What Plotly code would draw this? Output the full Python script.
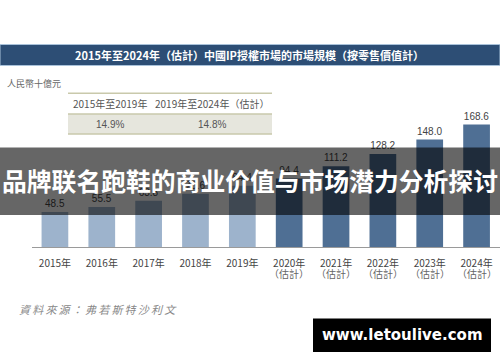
import plotly.graph_objects as go

W, H = 500, 362
years = ["2015年", "2016年", "2017年", "2018年", "2019年",
         "2020年", "2021年", "2022年", "2023年", "2024年"]
values = [48.5, 55.5, 63.8, 73.6, 84.4, 94.4, 111.2, 128.2, 148.0, 168.6]
estimated = [False] * 5 + [True] * 5
est_label = "（估計）"
table_header = ["2015年至2019年", "2019年至2024年（估計）"]
table_cagr = ["14.9%", "14.8%"]

title = "2015年至2024年（估計）中國IP授權市場的市場規模（按零售價值計）"
unit = "人民幣十億元"
source = "資料來源：弗若斯特沙利文"
banner = "品牌联名跑鞋的商业价值与市场潜力分析探讨"
watermark = "www.letoulive.com"

LIGHT = "#9db3cc"
DARK = "#4f6f94"
FONT = "Noto Sans CJK TC, Noto Sans CJK SC, sans-serif"

def py(y):
    return 1 - y / H

def px(x):
    return x / W

x_idx = list(range(len(years)))
fig = go.Figure(go.Bar(
    x=x_idx, y=values,
    marker=dict(color=[DARK if e else LIGHT for e in estimated], line=dict(width=0)),
    text=[f"{v:.1f}" for v in values], textposition="outside",
    textfont=dict(size=10, color="#444", family="Liberation Sans, Arial, sans-serif"),
    cliponaxis=False, width=0.57,
))

base_y = 247.3
scale = 0.728
fig.update_layout(
    width=W, height=H, margin=dict(l=0, r=0, t=0, b=0),
    paper_bgcolor="white", plot_bgcolor="white", showlegend=False,
    font=dict(family=FONT),
    xaxis=dict(domain=[px(31.5), 1.0], range=[-0.5, 9.5],
               tickmode="array", tickvals=x_idx, ticktext=years,
               tickfont=dict(size=10, color="#444", family=FONT),
               showline=True, linecolor="#9a9a9a", linewidth=1,
               ticks="", showgrid=False, zeroline=False, ticklabelstandoff=7),
    yaxis=dict(domain=[py(base_y), 1.0], range=[0, base_y / scale],
               visible=False, showgrid=False, zeroline=False),
)

shapes = []
# Title bar
shapes.append(dict(type="rect", xref="paper", yref="paper", x0=0, x1=1,
                   y0=py(65.5), y1=py(44.5), fillcolor="#2d4e75",
                   line=dict(color="#a9c2da", width=1), layer="below"))
# Table
shapes.append(dict(type="rect", xref="paper", yref="paper", x0=px(68), x1=px(272),
                   y0=py(134), y1=py(114), fillcolor="#e6e6dd", line=dict(width=0), layer="below"))
for yy in (93.3, 114, 134):
    shapes.append(dict(type="line", xref="paper", yref="paper", x0=px(68), x1=px(272),
                       y0=py(yy), y1=py(yy), line=dict(color="#c9c9ab", width=1.5), layer="below"))
# Banner overlay
shapes.append(dict(type="rect", xref="paper", yref="paper", x0=0, x1=1,
                   y0=py(215), y1=py(147.5), fillcolor="rgba(0,0,0,0.6)",
                   line=dict(width=0), layer="above"))
# Watermark box
shapes.append(dict(type="rect", xref="paper", yref="paper", x0=px(313), x1=px(491),
                   y0=py(352), y1=py(318.5), fillcolor="black",
                   line=dict(width=0), layer="above"))
fig.update_layout(shapes=shapes)

ann = []
for i, e in zip(x_idx, estimated):
    if e:
        ann.append(dict(text=est_label, x=i, y=py(273.5), xref="x", yref="paper",
                        showarrow=False, font=dict(size=10, color="#666", family=FONT),
                        xanchor="center", yanchor="middle"))
ann.append(dict(text=f"<b>{title}</b>", x=px(249), y=py(55), xref="paper", yref="paper",
                showarrow=False, font=dict(size=11, color="white", family=FONT),
                xanchor="center", yanchor="middle"))
ann.append(dict(text=unit, x=px(5), y=py(83), xref="paper", yref="paper",
                showarrow=False, font=dict(size=9, color="#666", family=FONT),
                xanchor="left", yanchor="middle"))
for cx, h, c in zip((110, 212), table_header, table_cagr):
    ann.append(dict(text=h, x=px(cx), y=py(103.5), xref="paper", yref="paper",
                    showarrow=False, font=dict(size=10, color="#555", family=FONT),
                    xanchor="center", yanchor="middle"))
    ann.append(dict(text=c, x=px(cx), y=py(124), xref="paper", yref="paper",
                    showarrow=False, font=dict(size=10, color="#555", family="Liberation Sans, Arial, sans-serif"),
                    xanchor="center", yanchor="middle"))
ann.append(dict(text="<i>" + "\u2009".join(source) + "</i>", x=px(17), y=py(309), xref="paper", yref="paper",
                showarrow=False, font=dict(size=11, color="#888", family=FONT),
                xanchor="left", yanchor="middle"))
ann.append(dict(text=f"<b>{banner}</b>", x=0.5, y=py(179.5), xref="paper", yref="paper",
                showarrow=False, font=dict(size=24.8, color="white", family="Noto Sans CJK SC, sans-serif"),
                xanchor="center", yanchor="middle"))
ann.append(dict(text=f"<b>{watermark}</b>", x=px(402), y=py(335), xref="paper", yref="paper",
                showarrow=False, font=dict(size=15, color="white", family="DejaVu Sans, sans-serif"),
                xanchor="center", yanchor="middle"))
fig.update_layout(annotations=ann)

fig.write_html("out.html", config={"displayModeBar": False},
               post_script="document.body.style.margin='0';document.body.style.overflow='hidden';")
